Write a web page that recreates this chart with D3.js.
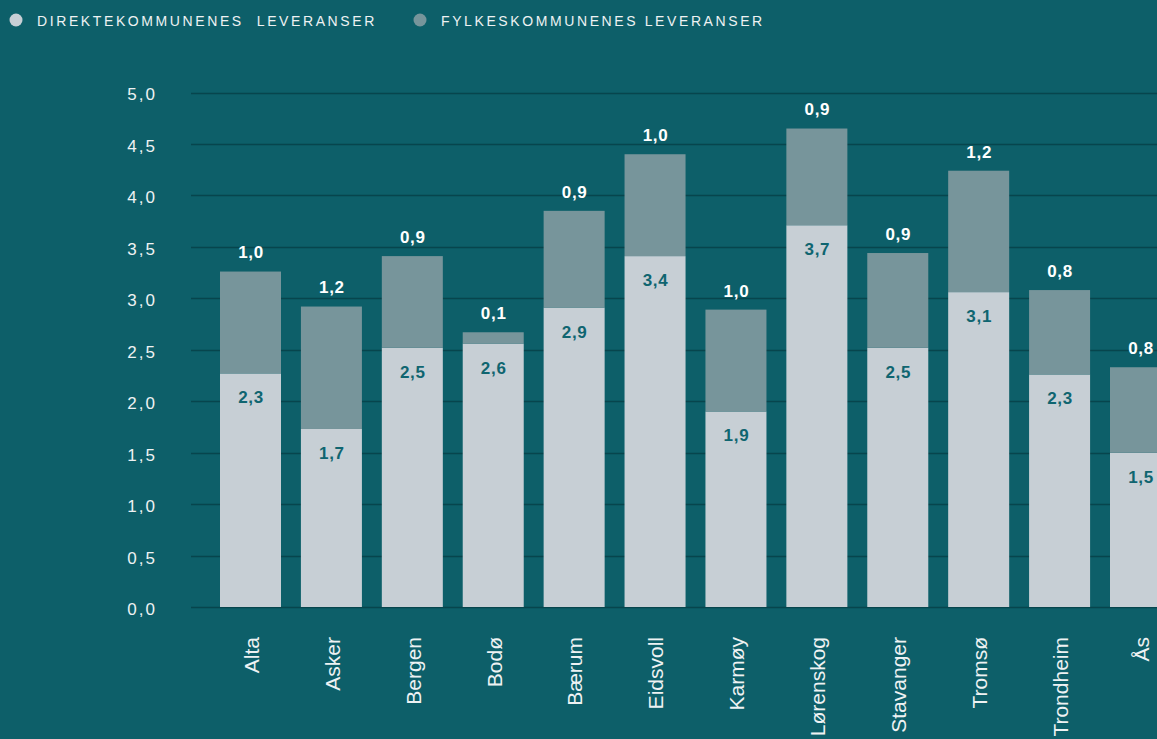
<!DOCTYPE html>
<html>
<head>
<meta charset="utf-8">
<script src="https://cdn.jsdelivr.net/npm/d3@7"></script>
<style>
  html, body { margin: 0; padding: 0; background: #0d5f69; overflow: hidden; }
  svg { display: block; font-family: "Liberation Sans", Arial, sans-serif; }
</style>
</head>
<body>
<svg id="chart" width="1157" height="739"></svg>
<script>
// data
var kommuner = ["Alta", "Asker", "Bergen", "Bodø", "Bærum", "Eidsvoll", "Karmøy", "Lørenskog", "Stavanger", "Tromsø", "Trondheim", "Ås"];
var direkte = [2.27, 1.73, 2.52, 2.56, 2.91, 3.41, 1.90, 3.71, 2.52, 3.06, 2.26, 1.50];
var fylke   = [0.99, 1.19, 0.89, 0.11, 0.94, 0.99, 0.99, 0.94, 0.92, 1.18, 0.82, 0.83];
var yTicks  = [0, 0.5, 1, 1.5, 2, 2.5, 3, 3.5, 4, 4.5, 5];
var serier  = ["DIREKTEKOMMUNENES  LEVERANSER", "FYLKESKOMMUNENES LEVERANSER"];

var farger = { bg: "#0d5f69", direkte: "#c7cfd5", fylke: "#77959b", grid: "#07454d" };

var svg = d3.select("#chart");
var W = 1157, H = 739;

svg.append("rect").attr("width", W).attr("height", H).attr("fill", farger.bg);

var komma = function(v){ return d3.format(".1f")(v).replace(".", ","); };

var y = d3.scaleLinear().domain([0, 5]).range([607, 92.5]);
var x = d3.scaleBand().domain(kommuner).range([220, 1171]).paddingInner(0.246).paddingOuter(0);

// gridlines
svg.append("g").selectAll("line").data(yTicks).join("line")
  .attr("x1", 191).attr("x2", W)
  .attr("y1", function(d){ return Math.round(y(d)) + 0.5; })
  .attr("y2", function(d){ return Math.round(y(d)) + 0.5; })
  .attr("stroke", farger.grid).attr("stroke-width", 1.5);

// y tick labels
svg.append("g").selectAll("text").data(yTicks).join("text")
  .attr("x", 157).attr("y", function(d){ return y(d) + 2; })
  .attr("text-anchor", "end").attr("dy", "0.35em")
  .attr("fill", "#eef2f3").attr("font-size", 17).attr("letter-spacing", "2px")
  .text(function(d){ return komma(d); });

var rows = kommuner.map(function(k, i){ return { k: k, d: direkte[i], f: fylke[i] }; });

var bars = svg.append("g");
bars.selectAll("rect.dir").data(rows).join("rect").attr("class", "dir")
  .attr("x", function(r){ return x(r.k); }).attr("width", x.bandwidth())
  .attr("y", function(r){ return y(r.d); })
  .attr("height", function(r){ return y(0) - y(r.d); })
  .attr("fill", farger.direkte);

bars.selectAll("rect.fyl").data(rows).join("rect").attr("class", "fyl")
  .attr("x", function(r){ return x(r.k); }).attr("width", x.bandwidth())
  .attr("y", function(r){ return y(r.d + r.f); })
  .attr("height", function(r){ return y(r.d) - y(r.d + r.f); })
  .attr("fill", farger.fylke);

// value labels
bars.selectAll("text.dir").data(rows).join("text").attr("class", "dir")
  .attr("x", function(r){ return x(r.k) + x.bandwidth() / 2 + 0.5; })
  .attr("y", function(r){ return y(r.d) + 24; })
  .attr("dy", "0.35em").attr("text-anchor", "middle")
  .attr("font-size", 17).attr("font-weight", "bold").attr("letter-spacing", "0.7px")
  .attr("fill", "#0f6570")
  .text(function(r){ return komma(r.d); });

bars.selectAll("text.fyl").data(rows).join("text").attr("class", "fyl")
  .attr("x", function(r){ return x(r.k) + x.bandwidth() / 2 + 0.5; })
  .attr("y", function(r){ return y(r.d + r.f) - 19; })
  .attr("dy", "0.35em").attr("text-anchor", "middle")
  .attr("font-size", 17).attr("font-weight", "bold").attr("letter-spacing", "0.7px")
  .attr("fill", "#ffffff")
  .text(function(r){ return komma(r.f); });

// x labels, rotated
svg.append("g").selectAll("text").data(kommuner).join("text")
  .attr("transform", function(k){ return "translate(" + (x(k) + x.bandwidth() / 2 + 1) + ",637) rotate(-90)"; })
  .attr("text-anchor", "end").attr("dy", "0.35em")
  .attr("font-size", 21).attr("fill", "#eef2f3")
  .text(function(k){ return k; });

// legend
var leg = svg.append("g");
var legX = [16, 420];
serier.forEach(function(s, i){
  leg.append("circle").attr("cx", legX[i]).attr("cy", 20).attr("r", 6.5)
    .attr("fill", i === 0 ? farger.direkte : farger.fylke);
  leg.append("text").attr("x", legX[i] + 21).attr("y", 21).attr("dy", "0.35em")
    .attr("font-size", 14).attr("letter-spacing", "2.6px").attr("fill", "#eef2f3")
    .style("white-space", "pre")
    .text(s);
});
</script>
</body>
</html>
